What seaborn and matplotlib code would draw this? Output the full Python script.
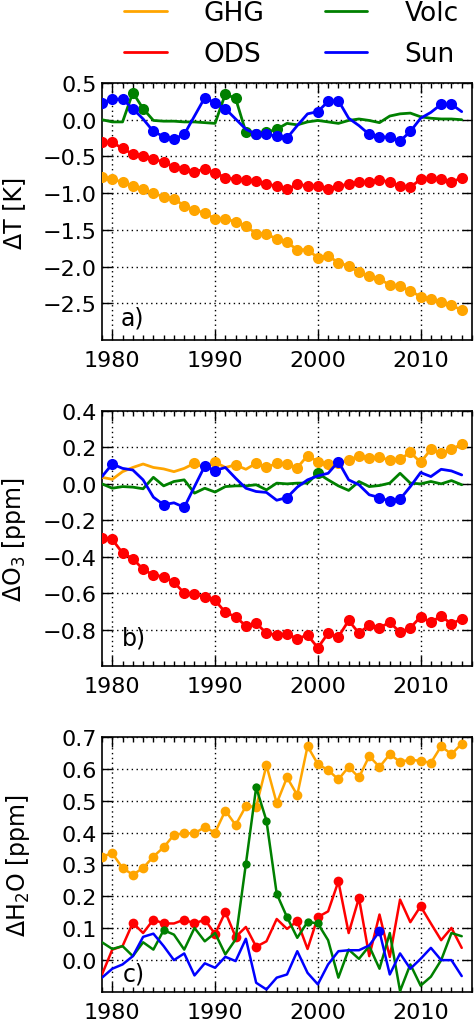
import numpy as np
import pandas as pd
import seaborn as sns
import matplotlib.pyplot as plt
from matplotlib.lines import Line2D
from matplotlib.ticker import MultipleLocator

years = np.arange(1979, 2015)
forcings = ['GHG', 'ODS', 'Volc', 'Sun']
colors = {'GHG': 'orange', 'ODS': 'red', 'Volc': 'green', 'Sun': 'blue'}

# a) temperature response [K]
t_ghg = [-0.78, -0.81, -0.85, -0.90, -0.95, -1.00, -1.05, -1.08, -1.17, -1.23,
         -1.27, -1.35, -1.35, -1.39, -1.45, -1.55, -1.55, -1.63, -1.67, -1.77,
         -1.77, -1.88, -1.85, -1.95, -1.99, -2.08, -2.13, -2.17, -2.25, -2.27,
         -2.33, -2.41, -2.44, -2.48, -2.53, -2.59]
t_ods = [-0.31, -0.31, -0.39, -0.47, -0.49, -0.53, -0.58, -0.64, -0.67, -0.71,
         -0.67, -0.72, -0.79, -0.81, -0.82, -0.83, -0.88, -0.90, -0.95, -0.88,
         -0.90, -0.90, -0.94, -0.90, -0.88, -0.85, -0.85, -0.82, -0.85, -0.90,
         -0.92, -0.81, -0.80, -0.81, -0.85, -0.79]
t_volc = [0.0, -0.03, -0.03, 0.37, 0.15, -0.01, -0.02, -0.02, -0.03, -0.03,
          -0.04, -0.05, 0.35, 0.29, -0.17, -0.20, -0.17, -0.13, -0.05, -0.07,
          -0.03, -0.01, -0.03, -0.05, -0.01, 0.01, -0.01, -0.04, 0.05, 0.08,
          0.09, 0.04, 0.02, 0.01, 0.01, 0.0]
t_sun = [0.23, 0.28, 0.28, 0.15, 0.01, -0.16, -0.23, -0.26, -0.20, 0.05,
         0.30, 0.23, 0.15, 0.01, -0.13, -0.20, -0.20, -0.22, -0.25, -0.08,
         0.08, 0.11, 0.25, 0.26, 0.02, -0.08, -0.20, -0.23, -0.24, -0.29,
         -0.16, 0.02, 0.10, 0.21, 0.21, 0.11]

# b) ozone response [ppm]
o_ghg = [0.036, 0.025, 0.067, 0.090, 0.109, 0.090, 0.082, 0.067, 0.085, 0.113,
         0.090, 0.120, 0.090, 0.104, 0.080, 0.113, 0.090, 0.113, 0.107, 0.089,
         0.155, 0.122, 0.107, 0.113, 0.131, 0.153, 0.140, 0.145, 0.131, 0.135,
         0.173, 0.118, 0.190, 0.167, 0.190, 0.218]
o_ods = [-0.296, -0.305, -0.38, -0.41, -0.47, -0.50, -0.51, -0.54, -0.60, -0.605,
         -0.62, -0.64, -0.705, -0.73, -0.78, -0.765, -0.82, -0.83, -0.824, -0.85,
         -0.83, -0.90, -0.82, -0.84, -0.75, -0.82, -0.775, -0.79, -0.76, -0.815,
         -0.79, -0.73, -0.76, -0.725, -0.77, -0.74]
o_volc = [0.0, -0.024, -0.015, -0.018, -0.027, 0.036, -0.011, 0.013, 0.022, -0.051,
          -0.024, -0.045, -0.015, -0.011, -0.011, -0.005, -0.033, 0.004, 0.0, 0.004,
          0.004, 0.058, 0.022, -0.011, -0.036, 0.013, -0.015, -0.009, 0.004, 0.058,
          0.004, 0.0, 0.013, 0.0, 0.018, -0.005]
o_sun = [0.04, 0.109, 0.085, 0.076, 0.022, -0.073, -0.115, -0.104, -0.129, -0.015,
         0.098, 0.073, 0.09, 0.031, -0.024, -0.042, -0.047, -0.09, -0.075, -0.018,
         0.022, 0.044, 0.058, 0.122, 0.022, -0.005, -0.06, -0.075, -0.096, -0.084,
         -0.015, 0.062, 0.04, 0.08, 0.071, 0.049]

# c) water vapour response [ppm]
w_ghg = [0.325, 0.335, 0.289, 0.268, 0.289, 0.325, 0.354, 0.393, 0.398, 0.398,
         0.417, 0.40, 0.469, 0.424, 0.483, 0.481, 0.611, 0.492, 0.573, 0.518,
         0.671, 0.615, 0.596, 0.567, 0.606, 0.573, 0.64, 0.606, 0.646, 0.622,
         0.629, 0.625, 0.619, 0.671, 0.646, 0.679]
w_ods = [-0.045, 0.033, 0.044, 0.117, 0.085, 0.127, 0.115, 0.115, 0.127, 0.115,
         0.127, 0.082, 0.151, 0.073, 0.104, 0.042, 0.059, 0.129, 0.098, 0.122,
         0.035, 0.135, 0.153, 0.247, 0.085, 0.195, 0.0125, 0.143, 0.01, 0.19,
         0.119, 0.169, 0.115, 0.0625, 0.101, 0.0385]
w_volc = [0.056, 0.035, 0.044, 0.0125, 0.056, 0.033, 0.094, 0.08, 0.033, 0.101,
          0.059, 0.085, 0.018, 0.065, 0.302, 0.542, 0.4375, 0.208, 0.135, 0.07,
          0.12, 0.115, 0.0625, -0.055, 0.033, 0.004, 0.044, -0.027, 0.085, -0.097,
          -0.0135, -0.08, -0.052, 0.0, 0.085, 0.075]
w_sun = [-0.055, -0.027, -0.0135, 0.0125, 0.073, 0.083, 0.044, 0.0, 0.021, -0.048,
         -0.01, -0.024, 0.0104, -0.003, 0.067, -0.071, -0.092, -0.055, -0.045, 0.028,
         -0.04, -0.076, -0.0135, 0.028, 0.031, 0.031, 0.046, 0.09, -0.045, 0.021,
         -0.027, 0.004, 0.0385, 0.0, 0.0, -0.05]

# years with a significant response (drawn with a dot)
all_years = list(years)
sig_t = {'GHG': all_years, 'ODS': all_years,
         'Volc': [1982, 1983, 1991, 1992, 1993, 1994, 1995, 1996],
         'Sun': [1979, 1980, 1981, 1982, 1984, 1985, 1986, 1987, 1989, 1990, 1991,
                 1994, 1995, 1996, 1997, 2000, 2001, 2002, 2005, 2006, 2007, 2008,
                 2009, 2012, 2013]}
sig_o = {'GHG': [1988, 1990, 1992] + list(range(1994, 2015)), 'ODS': all_years,
         'Volc': [2000],
         'Sun': [1980, 1985, 1987, 1989, 1990, 1997, 2002, 2006, 2007, 2008]}
sig_w = {'GHG': all_years,
         'ODS': [1982, 1984, 1985, 1987, 1988, 1989, 1990, 1991, 1992, 1994, 1998,
                 2000, 2002, 2004, 2010],
         'Volc': [1985, 1993, 1994, 1995, 1996, 1997, 1999, 2000],
         'Sun': [2006]}

panels = [
    {'vals': dict(zip(forcings, [t_ghg, t_ods, t_volc, t_sun])), 'sig': sig_t,
     'ylabel': 'ΔT [K]', 'ylim': (-3.0, 0.5), 'yticks': np.arange(-2.5, 0.51, 0.5),
     'tag': 'a)', 'tagpos': (0.05, 0.04), 'box': [102, 84, 370, 257],
     'ms': 8, 'lw': 2.0, 'labx': -0.205},
    {'vals': dict(zip(forcings, [o_ghg, o_ods, o_volc, o_sun])), 'sig': sig_o,
     'ylabel': 'ΔO$_3$ [ppm]', 'ylim': (-1.0, 0.4), 'yticks': np.arange(-0.8, 0.41, 0.2),
     'tag': 'b)', 'tagpos': (0.055, 0.065), 'box': [102, 412, 370, 255],
     'ms': 8, 'lw': 2.0, 'labx': -0.2},
    {'vals': dict(zip(forcings, [w_ghg, w_ods, w_volc, w_sun])), 'sig': sig_w,
     'ylabel': 'ΔH$_2$O [ppm]', 'ylim': (-0.1, 0.7), 'yticks': np.arange(0.0, 0.71, 0.1),
     'tag': 'c)', 'tagpos': (0.055, 0.025), 'box': [102, 738, 370, 255],
     'ms': 7, 'lw': 1.8, 'labx': -0.19},
]

sns.set_theme(style='ticks')
plt.rcParams['font.family'] = ['DejaVu Sans']
plt.rcParams['mathtext.default'] = 'regular'
for k in ['text.color', 'axes.labelcolor', 'xtick.color', 'ytick.color']:
    plt.rcParams[k] = 'black'

W, H = 474, 1020
fig = plt.figure(figsize=(W / 100, H / 100), dpi=100)

for p in panels:
    x0, y0, w, h = p['box']
    ax = fig.add_axes([x0 / W, 1 - (y0 + h) / H, w / W, h / H])
    for i, f in enumerate(forcings):
        y = np.array(p['vals'][f])
        mask = np.isin(years, p['sig'][f])
        df = pd.DataFrame({'year': years, 'value': y})
        ms = p['ms'] - 1 if (f == 'Volc' and p['tag'] == 'c)') else p['ms']
        sns.lineplot(data=df, x='year', y='value', ax=ax, color=colors[f],
                     lw=p['lw'], marker='o', markevery=list(mask), ms=ms,
                     mec=colors[f], mew=0, zorder=3 + i * 0.1)
    ax.set_xlim(1979, 2015)
    ax.set_ylim(*p['ylim'])
    ax.set_yticks(p['yticks'])
    ax.xaxis.set_major_locator(MultipleLocator(10))
    ax.xaxis.set_minor_locator(MultipleLocator(1))
    ax.tick_params(which='both', direction='in', top=True, right=True,
                   labelsize=16, color='black', labelcolor='black', width=1)
    ax.tick_params(which='major', length=7)
    ax.tick_params(which='minor', length=3.5)
    ax.tick_params(axis='x', pad=7)
    ax.grid(True, which='major', color='black', linestyle=(0, (1, 2.5)), lw=1)
    for s in ax.spines.values():
        s.set_linewidth(1.2)
        s.set_color('black')
    ax.set_xlabel('')
    ax.set_ylabel(p['ylabel'], fontsize=17, color='black')
    ax.yaxis.set_label_coords(p['labx'], 0.5)
    ax.text(*p['tagpos'], p['tag'], transform=ax.transAxes, fontsize=17,
            ha='left', va='bottom', zorder=5, color='black')

handles = [Line2D([], [], color=colors[f], lw=2.0) for f in forcings]
fig.legend(handles, forcings, ncol=2, loc='upper center',
           bbox_to_anchor=(0.615, 1.0), frameon=False, fontsize=19,
           handlelength=1.6, handletextpad=1.4, columnspacing=2.3,
           labelspacing=0.55, borderaxespad=0, borderpad=0.05)

fig.savefig('out.png', dpi=100)
